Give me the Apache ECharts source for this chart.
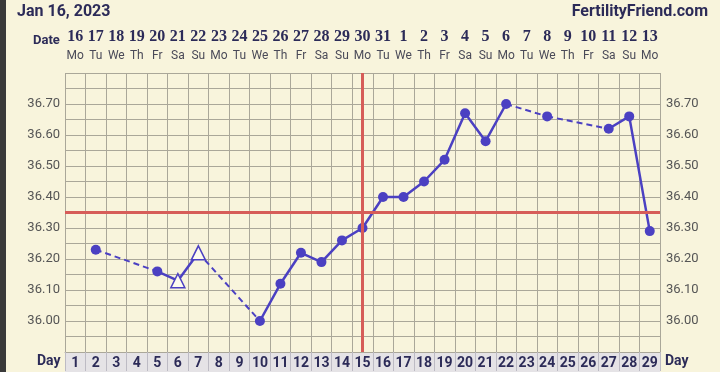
<!DOCTYPE html>
<html><head><meta charset="utf-8">
<script src="https://cdn.jsdelivr.net/npm/echarts@6/dist/echarts.min.js"></script>
<style>html,body{margin:0;padding:0;background:#f8f4dc;}#c{width:720px;height:372px;}</style>
</head><body><div id="c"></div>
<script>
const title = 'Jan 16, 2023';
const site = 'FertilityFriend.com';
const days = ['1','2','3','4','5','6','7','8','9','10','11','12','13','14','15','16','17','18','19','20','21','22','23','24','25','26','27','28','29'];
const dates = ['16','17','18','19','20','21','22','23','24','25','26','27','28','29','30','31','1','2','3','4','5','6','7','8','9','10','11','12','13'];
const weekdays = ['Mo','Tu','We','Th','Fr','Sa','Su','Mo','Tu','We','Th','Fr','Sa','Su','Mo','Tu','We','Th','Fr','Sa','Su','Mo','Tu','We','Th','Fr','Sa','Su','Mo'];
const temps = [null,36.23,null,null,36.16,36.13,36.22,null,null,36.00,36.12,36.22,36.19,36.26,36.30,36.40,36.40,36.45,36.52,36.67,36.58,36.70,null,36.66,null,null,36.62,36.66,36.29];
const openDays = ['6','7'];
const coverline = 36.35;
const ovulationDay = '15';

const PURPLE = '#4b40c2';
const NAVY = '#2c2b58';

const solidData = temps.map((t, i) => {
  if (t === null) return null;
  if (openDays.includes(days[i])) {
    return {value: t, symbol: 'triangle', symbolSize: 14,
      itemStyle: {color: '#fdfbee', borderColor: PURPLE, borderWidth: 1.5}};
  }
  return {value: t};
});

// dashed connectors across missing days
const dashedSeries = [];
let prev = -1;
temps.forEach((t, i) => {
  if (t === null) return;
  if (prev >= 0 && i - prev > 1) {
    const arr = temps.map(() => null);
    arr[prev] = temps[prev];
    arr[i] = t;
    dashedSeries.push({
      type: 'line', data: arr, connectNulls: true, symbol: 'none', silent: true,
      lineStyle: {color: PURPLE, width: 2, type: [6, 4]}, z: 2
    });
  }
  prev = i;
});

const yLabelFmt = v => {
  const r = Math.round(v * 100);
  return (r % 10 === 0 && v > 35.99 && v < 36.71) ? v.toFixed(2) : '';
};

const chart = echarts.init(document.getElementById('c'));
chart.setOption({
  backgroundColor: '#f8f4dc',
  animation: false,
  graphic: [
    {type: 'rect', left: 0, top: 0, shape: {width: 6, height: 372}, style: {fill: '#3a3a3a'}},
    {type: 'rect', left: 65, top: 353, shape: {width: 595, height: 19}, style: {fill: '#e5e3e6'}, z: -1},
    {type: 'text', left: 17, top: 4, style: {text: title, font: 'bold 16px Roboto', fill: NAVY}},
    {type: 'text', right: 12, top: 4, style: {text: site, font: 'bold 16px Roboto', fill: NAVY}},
    {type: 'text', left: 33, top: 34, style: {text: 'Date', font: 'bold 13px Roboto', fill: NAVY}},
    {type: 'text', left: 37, top: 354, style: {text: 'Day', font: 'bold 14px Roboto', fill: NAVY}},
    {type: 'text', left: 665, top: 354, style: {text: 'Day', font: 'bold 14px Roboto', fill: NAVY}}
  ],
  grid: {left: 65, right: 60, top: 73, bottom: 20},
  xAxis: [
    {type: 'category', data: days, position: 'bottom', boundaryGap: true,
     axisLine: {show: true, lineStyle: {color: '#aaa799'}},
     axisTick: {show: true, length: 19, lineStyle: {color: '#bdbbc4', width: 1}},
     axisLabel: {interval: 0, margin: 4, fontFamily: 'Roboto', fontWeight: 'bold', fontSize: 14, color: NAVY},
     splitLine: {show: true, interval: 0, lineStyle: {color: '#aaa799', width: 1}}},
    {type: 'category', data: dates, position: 'top', boundaryGap: true,
     axisLine: {show: false}, axisTick: {show: false},
     axisLabel: {interval: 0, margin: 8,
       formatter: (v, i) => '{d|' + v + '}\n{w|' + weekdays[i] + '}',
       rich: {
         d: {fontFamily: 'Liberation Serif', fontWeight: 'bold', fontSize: 16, color: NAVY, lineHeight: 20},
         w: {fontFamily: 'Roboto', fontSize: 12, color: '#4a4a58', lineHeight: 18}
       }}}
  ],
  yAxis: [
    {type: 'value', min: 35.9, max: 36.8, interval: 0.05, position: 'left',
     axisLine: {show: false}, axisTick: {show: false},
     axisLabel: {margin: 5, formatter: yLabelFmt, fontFamily: 'Roboto', fontSize: 13, color: '#555555'},
     splitLine: {show: true, lineStyle: {color: '#aaa799', width: 1}}},
    {type: 'value', min: 35.9, max: 36.8, interval: 0.05, position: 'right',
     axisLine: {show: false}, axisTick: {show: false},
     axisLabel: {margin: 6, formatter: yLabelFmt, fontFamily: 'Roboto', fontSize: 13, color: '#555555'},
     splitLine: {show: false}}
  ],
  series: [
    {type: 'line', data: solidData, connectNulls: false, symbol: 'circle', symbolSize: 10,
     itemStyle: {color: PURPLE}, lineStyle: {color: PURPLE, width: 2.5}, z: 3,
     markLine: {silent: true, symbol: 'none', label: {show: false},
       lineStyle: {color: '#d65c58', width: 3, type: 'solid'},
       data: [{yAxis: coverline}, {xAxis: ovulationDay}]}},
    ...dashedSeries
  ]
});
</script></body></html>
